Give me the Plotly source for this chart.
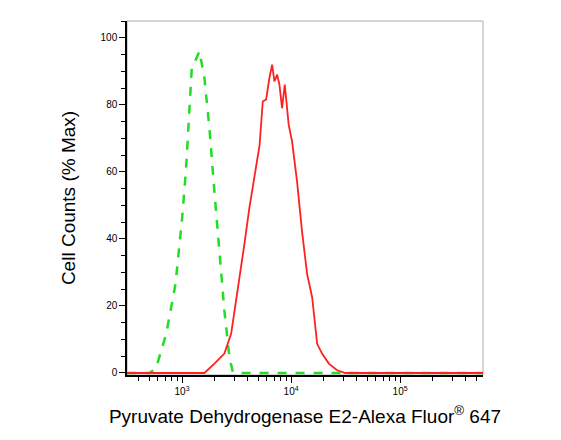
import numpy as np
import plotly.graph_objects as go

# log10 intensity, percent max
green_logx = [2.495, 2.70, 2.76, 2.855, 2.94, 3.0, 3.037, 3.067, 3.089, 3.107, 3.159, 3.205, 3.251, 3.297, 3.343, 3.388, 3.434, 3.465, 3.55, 4.0, 4.5, 5.76]
green_y = [0, 0, 1.3, 11.7, 26.6, 46, 61, 78, 91, 92, 96, 88, 73, 54, 36.5, 18.6, 4.8, 0.3, 0, 0, 0, 0]
red_logx = [2.495, 3.0, 3.205, 3.297, 3.388, 3.45, 3.511, 3.572, 3.618, 3.664, 3.711, 3.74, 3.771, 3.801, 3.826, 3.847, 3.872, 3.893, 3.917, 3.942, 3.978, 4.009, 4.055, 4.101, 4.147, 4.193, 4.239, 4.284, 4.346, 4.422, 4.498, 5.76]
red_y = [0, 0, 0, 2.8, 5.8, 11.7, 24.6, 38.5, 49.4, 58, 68, 81, 81.6, 88, 92, 87, 89, 86, 79, 86, 74, 69, 57, 42, 29.5, 22.6, 8.7, 5.8, 2.8, 0.8, 0, 0]
x_tickvals = [1e3, 1e4, 1e5]
x_ticktext = ["10<sup>3</sup>", "10<sup>4</sup>", "10<sup>5</sup>"]

fig = go.Figure()
fig.add_trace(go.Scatter(x=[10**v for v in green_logx], y=green_y, mode="lines",
                         line=dict(color="#22dd22", width=2.5, dash="dash")))
fig.add_trace(go.Scatter(x=[10**v for v in red_logx], y=red_y, mode="lines",
                         line=dict(color="#ff2020", width=1.8)))
fig.add_shape(type="rect", xref="paper", yref="paper", x0=0, y0=0, x1=1, y1=1,
              line=dict(color="#aaaaaa", width=1), layer="below")
fig.update_layout(
    width=561, height=440, margin=dict(l=119, r=86, t=13, b=73, autoexpand=False),
    plot_bgcolor="white", paper_bgcolor="white", showlegend=False,
    font=dict(family="Liberation Sans, Arial", color="black"),
    xaxis=dict(type="log", range=[2.495, 5.76], showgrid=False, zeroline=False, automargin=False,
               showline=True, linecolor="black", linewidth=1.5,
               ticks="outside", ticklen=6, tickcolor="black",
               tickvals=x_tickvals, ticktext=x_ticktext, tickfont=dict(size=10),
               minor=dict(ticks="outside", ticklen=4, tickcolor="black",
                          tickvals=[m * 10**e for e in [2, 3, 4, 5] for m in range(2, 10) if 10**2.495 <= m * 10**e <= 10**5.76]),
               title=dict(text="Pyruvate Dehydrogenase E2-Alexa Fluor<sup>®</sup> 647", font=dict(size=19), standoff=14)),
    yaxis=dict(range=[-0.6, 105], showgrid=False, zeroline=False, automargin=False,
               showline=True, linecolor="black", linewidth=1.5,
               ticks="outside", ticklen=6, tickcolor="black",
               tickvals=[0, 20, 40, 60, 80, 100], tickfont=dict(size=10),
               minor=dict(ticks="outside", ticklen=4, tickcolor="black", dtick=5),
               title=dict(text="Cell Counts (% Max)", font=dict(size=19), standoff=20)),
)
fig.write_html("out.html")
